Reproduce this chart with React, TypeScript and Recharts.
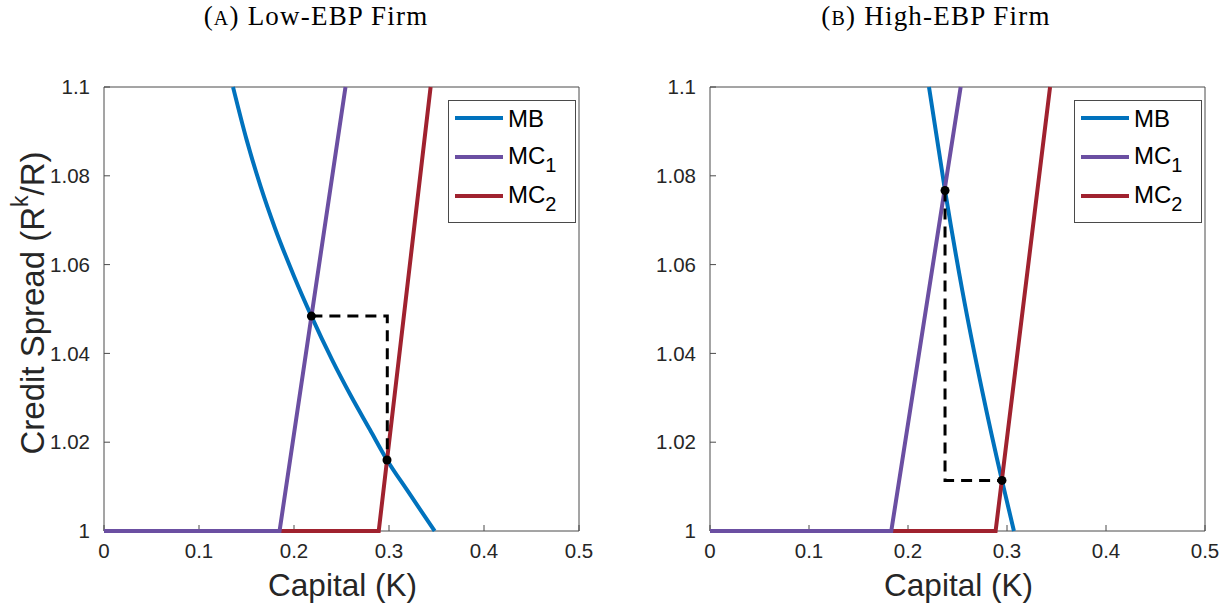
import { ComposedChart, Legend, Line, Scatter, XAxis, YAxis } from "recharts"

type Pt = { k: number; y: number }

const X_TICKS = [0, 0.1, 0.2, 0.3, 0.4, 0.5]
const Y_TICKS = [1, 1.02, 1.04, 1.06, 1.08, 1.1]

// (A) low-EBP firm
const MB_A: Pt[] = [
  { k: 0.1358, y: 1.1 },
  { k: 0.15, y: 1.0882 },
  { k: 0.165, y: 1.0775 },
  { k: 0.18, y: 1.0682 },
  { k: 0.2, y: 1.0574 },
  { k: 0.2183, y: 1.0484 },
  { k: 0.24, y: 1.0386 },
  { k: 0.26, y: 1.0304 },
  { k: 0.28, y: 1.0228 },
  { k: 0.2979, y: 1.016 },
  { k: 0.32, y: 1.0089 },
  { k: 0.348, y: 1.0 },
]
const MC1_A: Pt[] = [
  { k: 0, y: 1 },
  { k: 0.1848, y: 1 },
  { k: 0.2542, y: 1.1 },
]
const MC2_A: Pt[] = [
  { k: 0, y: 1 },
  { k: 0.2892, y: 1 },
  { k: 0.3438, y: 1.1 },
]
const EQ_A: Pt[] = [
  { k: 0.2183, y: 1.0484 },
  { k: 0.2979, y: 1.016 },
]
const STEP_A: Pt[] = [
  { k: 0.2183, y: 1.0484 },
  { k: 0.2982, y: 1.0484 },
  { k: 0.2982, y: 1.016 },
]

// (B) high-EBP firm
const MB_B: Pt[] = [
  { k: 0.2212, y: 1.1 },
  { k: 0.2374, y: 1.0767 },
  { k: 0.255, y: 1.054 },
  { k: 0.275, y: 1.0315 },
  { k: 0.2949, y: 1.0114 },
  { k: 0.307, y: 1.0 },
]
const MC1_B: Pt[] = [
  { k: 0, y: 1 },
  { k: 0.1831, y: 1 },
  { k: 0.2532, y: 1.1 },
]
const MC2_B: Pt[] = [
  { k: 0, y: 1 },
  { k: 0.2885, y: 1 },
  { k: 0.3435, y: 1.1 },
]
const EQ_B: Pt[] = [
  { k: 0.2374, y: 1.0767 },
  { k: 0.2949, y: 1.0114 },
]
const STEP_B: Pt[] = [
  { k: 0.2374, y: 1.0767 },
  { k: 0.2374, y: 1.0114 },
  { k: 0.2949, y: 1.0114 },
]

const BLUE = "#0072BD"
const PURPLE = "#6B4FA2"
const RED = "#A0222F"
const AXIS = "#4a4a4a"
const TXT = "#262626"
const SANS = "Liberation Sans, Arial, Helvetica, sans-serif"

const SERIES = [
  { name: "MB", sub: "", color: BLUE },
  { name: "MC", sub: "1", color: PURPLE },
  { name: "MC", sub: "2", color: RED },
]

function LegendBox() {
  return (
    <svg width={128} height={123} style={{ display: "block" }}>
      <rect x={0.5} y={0.5} width={127} height={122} fill="#fff" stroke={AXIS} strokeWidth={1} />
      {SERIES.map((s, i) => {
        const ly = 18 + i * 39
        return (
          <g key={i}>
            <line x1={7} x2={55} y1={ly} y2={ly} stroke={s.color} strokeWidth={4} />
            <text x={60} y={s.sub ? ly - 2 : ly} dominantBaseline="central" fontSize={24} fill="#000" fontFamily={SANS}>
              {s.name}
              {s.sub && (
                <tspan dy={10} fontSize={20}>
                  {s.sub}
                </tspan>
              )}
            </text>
          </g>
        )
      })}
    </svg>
  )
}

const fmt = (v: number) => String(v)

function Panel({
  mb, mc1, mc2, eq, step, yLabel, left, width, marginLeft, marginRight, titleX, title, tag,
}: {
  mb: Pt[]; mc1: Pt[]; mc2: Pt[]; eq: Pt[]; step: Pt[]; yLabel: boolean
  left: number; width: number; marginLeft: number; marginRight: number; titleX: number; title: string; tag: string
}) {
  const plotRight = width - marginRight
  return (
    <div style={{ position: "absolute", left, top: 0, width, height: 610 }}>
      <div
        style={{
          position: "absolute", left: titleX - 200, top: 1, width: 400,
          textAlign: "center", fontFamily: "Liberation Serif, Times New Roman, serif", fontSize: 27,
          letterSpacing: 1.2, color: "#000", whiteSpace: "nowrap",
        }}
      >
        (<span style={{ fontSize: 20 }}>{tag}</span>) {title}
      </div>
      <ComposedChart width={width} height={610} margin={{ top: 87, right: marginRight, bottom: 8, left: marginLeft }}>
        <XAxis
          xAxisId="b" type="number" dataKey="k" domain={[0, 0.5]} ticks={X_TICKS} interval={0}
          tickSize={-6} tickMargin={18} height={71}
          stroke={AXIS} tickFormatter={fmt}
          tick={{ fontSize: 20.5, fill: TXT, fontFamily: SANS }}
          label={{
            content: (p: any) => {
              const vb = p.viewBox
              return (
                <text x={vb.x + vb.width / 2 + 1} y={vb.y + 54} textAnchor="middle" dominantBaseline="central" fontSize={31.5} fill={TXT} fontFamily={SANS}>
                  Capital (K)
                </text>
              )
            },
          }}
        />
        <XAxis xAxisId="t" orientation="top" mirror type="number" dataKey="k" domain={[0, 0.5]} ticks={X_TICKS} interval={0} tickSize={6} tick={false} stroke={AXIS} />
        <YAxis
          yAxisId="l" type="number" domain={[1, 1.1]} ticks={Y_TICKS} interval={0}
          tickSize={-6} tickMargin={20} width={90}
          stroke={AXIS} tickFormatter={fmt}
          tick={{ fontSize: 20.5, fill: TXT, fontFamily: SANS }}
          label={
            yLabel
              ? {
                  content: (p: any) => {
                    const vb = p.viewBox
                    const cx = vb.x + 18
                    const cy = vb.y + vb.height / 2 - 6
                    return (
                      <text transform={`translate(${cx},${cy}) rotate(-90)`} textAnchor="middle" dominantBaseline="central" fontSize={33} fill={TXT} fontFamily={SANS}>
                        Credit Spread (R
                        <tspan dy={-12} fontSize={23}>k</tspan>
                        <tspan dy={12}>/R)</tspan>
                      </text>
                    )
                  },
                }
              : undefined
          }
        />
        <YAxis yAxisId="r" orientation="right" mirror type="number" domain={[1, 1.1]} ticks={Y_TICKS} interval={0} tickSize={6} tick={false} stroke={AXIS} />
        <Line xAxisId="b" yAxisId="l" zIndex={550} data={mb} dataKey="y" type="monotone" stroke={BLUE} strokeWidth={4} dot={false} isAnimationActive={false} legendType="none" />
        <Line xAxisId="b" yAxisId="l" zIndex={550} data={mc2} dataKey="y" type="linear" stroke={RED} strokeWidth={4} dot={false} isAnimationActive={false} legendType="none" />
        <Line xAxisId="b" yAxisId="l" zIndex={550} data={mc1} dataKey="y" type="linear" stroke={PURPLE} strokeWidth={4} dot={false} isAnimationActive={false} legendType="none" />
        <Line xAxisId="b" yAxisId="l" zIndex={550} data={step} dataKey="y" type="linear" stroke="#000" strokeWidth={3} strokeDasharray="11 7" dot={false} isAnimationActive={false} legendType="none" />
        <Scatter
          xAxisId="b" yAxisId="l" zIndex={600} data={eq} dataKey="y" isAnimationActive={false} legendType="none"
          shape={(p: any) => <circle cx={p.cx} cy={p.cy} r={4.5} fill="#000" />}
        />
        <Legend
          layout="vertical" align="center" verticalAlign="middle"
          wrapperStyle={{ left: plotRight - 131, top: 100, width: 128, height: 123 }}
          content={() => <LegendBox />}
        />
      </ComposedChart>
    </div>
  )
}

export default function App() {
  return (
    <div style={{ position: "absolute", left: 0, top: 0, width: 1231, height: 610, background: "#fff", overflow: "hidden" }}>
      <Panel mb={MB_A} mc1={MC1_A} mc2={MC2_A} eq={EQ_A} step={STEP_A} yLabel left={0} width={615} marginLeft={14} marginRight={36} titleX={316} tag="A" title="Low-EBP Firm" />
      <Panel mb={MB_B} mc1={MC1_B} mc2={MC2_B} eq={EQ_B} step={STEP_B} yLabel={false} left={615} width={616} marginLeft={5} marginRight={26} titleX={321} tag="B" title="High-EBP Firm" />
    </div>
  )
}
